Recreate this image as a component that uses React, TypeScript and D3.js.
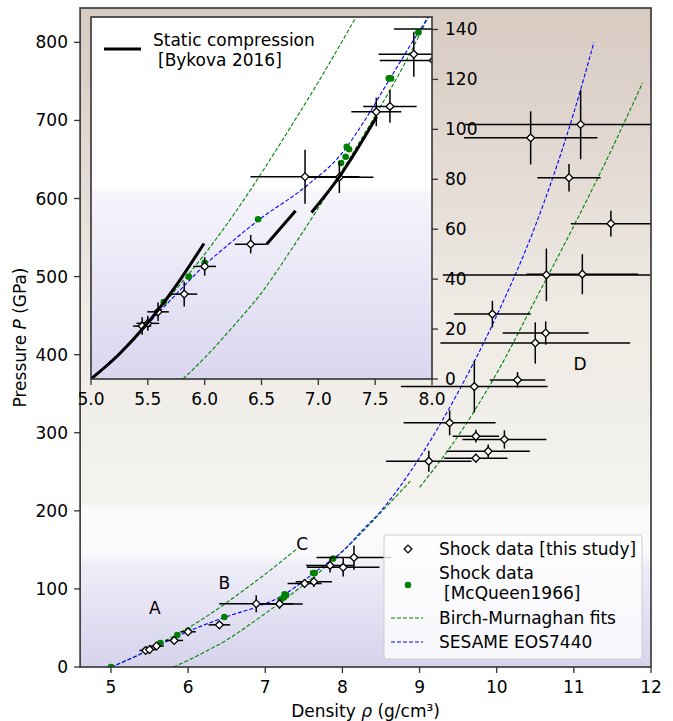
import React from "react";
import * as d3 from "d3";

// ---------------- data ----------------
// Shock data [this study]
const shockRho = [5.45, 5.5, 5.59, 5.82, 6.0, 6.405, 6.883, 7.185, 7.51, 7.63, 7.84, 8.01, 8.15, 9.12, 9.73, 9.89, 10.1, 9.73, 9.39, 9.71, 10.27, 10.5, 10.635, 9.944, 10.644, 11.11, 11.48, 10.937, 10.44, 11.088];
const shockP = [21.2, 22.3, 26.9, 34.0, 45.1, 54.0, 81.0, 80.8, 107.0, 109.2, 130.1, 127.6, 140.2, 263.6, 267.5, 276.4, 291.4, 295.6, 312.7, 359.1, 367.7, 415.0, 427.7, 452.0, 502.2, 503.1, 567.8, 626.6, 677.7, 694.8];
const shockRhoErr = [0.08, 0.1, 0.095, 0.115, 0.1, 0.14, 0.48, 0.3, 0.22, 0.235, 0.31, 0.47, 0.485, 0.554, 0.41, 0.54, 0.544, 0.3, 0.596, 0.95, 0.36, 1.23, 0.557, 0.497, 1.343, 0.724, 0.52, 0.41, 0.865, 1.5];
const shockPErr = [3.5, 3.0, 3.7, 5.0, 3.7, 3.7, 10.8, 6.3, 5.7, 6.6, 9.0, 11.6, 15.5, 13.4, 5.7, 8.5, 11.7, 8.2, 16.0, 33.0, 10.0, 26.4, 14.9, 17.0, 33.7, 25.6, 16.6, 17.7, 34.0, 44.5];

// Shock data [McQueen1966]
const mcqRho = [5.0, 5.45, 5.64, 5.86, 6.0, 6.47, 7.2, 7.24, 7.25, 7.27, 7.62, 7.64, 7.88];
const mcqP = [0, 21.5, 30.8, 41.0, 46.5, 64.0, 86.5, 89.0, 93.0, 92.0, 120.4, 120.4, 138.8];

// Birch-Murnaghan fits
const bm1Rho = [5.0, 5.25, 5.5, 5.75, 6.0, 6.25, 6.5, 6.75, 7.0, 7.25, 7.4];
const bm1P = [0, 10.5, 22.5, 36, 50, 65.5, 82.5, 100.5, 119, 138.5, 150.5];
const bm2Rho = [5.81, 6.0, 6.25, 6.5, 6.75, 7.0, 7.25, 7.5, 7.75, 8.0, 8.25, 8.5, 8.88];
const bm2P = [0, 8.5, 21, 34.5, 51, 68.5, 86.5, 105.5, 125.5, 148, 172, 198, 238];
const bm3Rho = [9.0, 9.5, 10.0, 10.5, 11.0, 11.5, 11.89];
const bm3P = [230, 296, 376, 470, 565, 665, 748];

// SESAME EOS7440
const sesRho = [5.0, 5.25, 5.5, 5.75, 6.0, 6.2, 6.47, 6.9, 7.2, 7.4, 7.6, 7.8, 8.0, 8.25, 8.5, 9.0, 9.5, 10.0, 10.5, 11.0, 11.26];
const sesP = [0, 10.5, 22, 34, 45.6, 53.5, 63.5, 77.5, 90, 103, 118, 133, 148, 174, 200, 268, 352, 450, 565, 710, 800];

// Static compression [Bykova 2016] (NaN = gap)
const bykRho = [5.0, 5.25, 5.5, 5.75, 5.994, NaN, 6.545, 6.8, NaN, 6.94, 7.2, 7.513];
const bykP = [0, 10, 22.5, 37.5, 54.3, NaN, 54, 67.4, NaN, 66.7, 82, 105];

// Phase annotations
const annLabels = ["A", "B", "C", "D"];
const annRho = [5.57, 6.47, 7.48, 11.08];
const annP = [76, 107, 157, 388];

// Ticks
const mainXTicks = [5, 6, 7, 8, 9, 10, 11, 12];
const mainYTicks = [0, 100, 200, 300, 400, 500, 600, 700, 800];
const insetXTicks = [5.0, 5.5, 6.0, 6.5, 7.0, 7.5, 8.0];
const insetYTicks = [0, 20, 40, 60, 80, 100, 120, 140];

const FONT = "DejaVu Sans";
const GREEN = "#008000";
const BLUE = "#0000ff";

type Scale = d3.ScaleLinear<number, number>;

function diamond(cx: number, cy: number, r: number) {
  return `M${cx},${cy - r}L${cx + r},${cy}L${cx},${cy + r}L${cx - r},${cy}Z`;
}

function curvePath(rhos: number[], ps: number[], sx: Scale, sy: Scale) {
  const pts = d3.zip(rhos, ps) as [number, number][];
  return (
    d3
      .line<[number, number]>()
      .defined((d) => !isNaN(d[0]))
      .x((d) => sx(d[0]))
      .y((d) => sy(d[1]))
      .curve(d3.curveMonotoneX)(pts) || ""
  );
}

function Layer({ sx, sy, clip, inset }: { sx: Scale; sy: Scale; clip: string; inset: boolean }) {
  return (
    <g>
      <g clipPath={`url(#${clip})`}>
        {[
          [bm1Rho, bm1P],
          [bm2Rho, bm2P],
          [bm3Rho, bm3P],
        ].map((c, i) => (
          <path key={"bm" + i} d={curvePath(c[0], c[1], sx, sy)} fill="none" stroke={GREEN} strokeWidth={1.1} strokeDasharray="4,2" />
        ))}
        <path d={curvePath(sesRho, sesP, sx, sy)} fill="none" stroke={BLUE} strokeWidth={1.1} strokeDasharray="4,2" />
        {mcqRho.map((r, i) => (
          <circle key={"m" + i} cx={sx(r)} cy={sy(mcqP[i])} r={3.3} fill={GREEN} />
        ))}
        {shockRho.map((r, i) => (
          <g key={"e" + i} stroke="#000" strokeWidth={1.5}>
            <line x1={sx(r - shockRhoErr[i])} x2={sx(r + shockRhoErr[i])} y1={sy(shockP[i])} y2={sy(shockP[i])} />
            <line x1={sx(r)} x2={sx(r)} y1={sy(shockP[i] - shockPErr[i])} y2={sy(shockP[i] + shockPErr[i])} />
          </g>
        ))}
        {shockRho.map((r, i) => (
          <path key={"d" + i} d={diamond(sx(r), sy(shockP[i]), 3.9)} fill="#fff" stroke="#000" strokeWidth={1.3} />
        ))}
        {inset && <path d={curvePath(bykRho, bykP, sx, sy)} fill="none" stroke="#000" strokeWidth={3} />}
      </g>
    </g>
  );
}

export default function App() {
  const L = 80.1, R = 651, T = 8, B = 667;
  const x = d3.scaleLinear().domain([4.6, 12]).range([L, R]);
  const y = d3.scaleLinear().domain([0, 844]).range([B, T]);
  const IL = 91, IR = 432, IT = 17, IB = 379;
  const ix = d3.scaleLinear().domain([5, 8]).range([IL, IR]);
  const iy = d3.scaleLinear().domain([0, 145]).range([IB, IT]);
  const fs = 17;

  return (
    <svg width={673} height={721} style={{ position: "absolute", left: 0, top: 0 }} fontFamily={FONT}>
      <defs>
        <linearGradient id="bgMain" x1="0" y1="0" x2="0" y2="1">
          <stop offset="0" stopColor="#d8cbc2" />
          <stop offset="0.1" stopColor="#dcd1c9" />
          <stop offset="0.3" stopColor="#e6dfd8" />
          <stop offset="0.45" stopColor="#eeeae4" />
          <stop offset="0.65" stopColor="#f2f0eb" />
          <stop offset="0.75" stopColor="#f4f3f0" />
          <stop offset="0.76" stopColor="#fbfbfb" />
          <stop offset="0.83" stopColor="#f9f9fc" />
          <stop offset="0.845" stopColor="#eeedf8" />
          <stop offset="1" stopColor="#d6d3ec" />
        </linearGradient>
        <linearGradient id="bgInset" x1="0" y1="0" x2="0" y2="1">
          <stop offset="0" stopColor="#ffffff" />
          <stop offset="0.47" stopColor="#ffffff" />
          <stop offset="0.485" stopColor="#f6f5fc" />
          <stop offset="1" stopColor="#d9d6ef" />
        </linearGradient>
        <clipPath id="clipMain">
          <rect x={L} y={T} width={R - L} height={B - T} />
        </clipPath>
        <clipPath id="clipInset">
          <rect x={IL} y={IT} width={IR - IL} height={IB - IT} />
        </clipPath>
      </defs>
      <rect x={0} y={0} width={673} height={721} fill="#fff" />

      {/* main axes */}
      <rect x={L} y={T} width={R - L} height={B - T} fill="url(#bgMain)" />
      {annLabels.map((a, i) => (
        <text key={a} x={x(annRho[i])} y={y(annP[i]) + 6} textAnchor="middle" fontSize={fs}>
          {a}
        </text>
      ))}
      <Layer sx={x} sy={y} clip="clipMain" inset={false} />
      <rect x={L} y={T} width={R - L} height={B - T} fill="none" stroke="#333" strokeWidth={1.6} />
      {mainXTicks.map((t) => (
        <g key={"xt" + t}>
          <line x1={x(t)} x2={x(t)} y1={B} y2={B + 6} stroke="#333" strokeWidth={1.3} />
          <text x={x(t)} y={693} textAnchor="middle" fontSize={fs}>
            {t}
          </text>
        </g>
      ))}
      {mainYTicks.map((t) => (
        <g key={"yt" + t}>
          <line x1={L - 6} x2={L} y1={y(t)} y2={y(t)} stroke="#333" strokeWidth={1.3} />
          <text x={68} y={y(t) + 6} textAnchor="end" fontSize={fs}>
            {t}
          </text>
        </g>
      ))}
      <text x={(L + R) / 2} y={717} textAnchor="middle" fontSize={fs}>
        Density <tspan fontStyle="italic">ρ</tspan> (g/cm³)
      </text>
      <text transform={`translate(26,${(T + B) / 2}) rotate(-90)`} textAnchor="middle" fontSize={fs}>
        Pressure <tspan fontStyle="italic">P</tspan> (GPa)
      </text>

      {/* main legend */}
      <g>
        <rect x={384} y={535} width={258} height={124} rx={3} fill="#fff" fillOpacity={0.8} stroke="#cccccc" />
        <path d={diamond(408, 549, 3.9)} fill="#fff" stroke="#000" strokeWidth={1.3} />
        <text x={439} y={555} fontSize={fs}>Shock data [this study]</text>
        <circle cx={408} cy={585} r={3.3} fill={GREEN} />
        <text x={439} y={579} fontSize={fs}>Shock data</text>
        <text x={444} y={599} fontSize={fs}>[McQueen1966]</text>
        <line x1={391} x2={423} y1={618} y2={618} stroke={GREEN} strokeWidth={1.1} strokeDasharray="4,2" />
        <text x={439} y={624} fontSize={fs}>Birch-Murnaghan fits</text>
        <line x1={391} x2={423} y1={642} y2={642} stroke={BLUE} strokeWidth={1.1} strokeDasharray="4,2" />
        <text x={439} y={648} fontSize={fs}>SESAME EOS7440</text>
      </g>

      {/* inset axes */}
      <rect x={IL} y={IT} width={IR - IL} height={IB - IT} fill="url(#bgInset)" />
      <Layer sx={ix} sy={iy} clip="clipInset" inset={true} />
      <line x1={104} x2={141} y1={49} y2={49} stroke="#000" strokeWidth={3} />
      <text x={153} y={46} fontSize={fs}>Static compression</text>
      <text x={158} y={66} fontSize={fs}>[Bykova 2016]</text>
      <rect x={IL} y={IT} width={IR - IL} height={IB - IT} fill="none" stroke="#333" strokeWidth={1.6} />
      {insetXTicks.map((t) => (
        <g key={"ixt" + t}>
          <line x1={ix(t)} x2={ix(t)} y1={IB} y2={IB + 6} stroke="#333" strokeWidth={1.3} />
          <text x={ix(t)} y={404.5} textAnchor="middle" fontSize={fs}>
            {t.toFixed(1)}
          </text>
        </g>
      ))}
      {insetYTicks.map((t) => (
        <g key={"iyt" + t}>
          <line x1={IR} x2={IR + 6} y1={iy(t)} y2={iy(t)} stroke="#333" strokeWidth={1.3} />
          <text x={445} y={iy(t) + 6} textAnchor="start" fontSize={fs}>
            {t}
          </text>
        </g>
      ))}
    </svg>
  );
}
